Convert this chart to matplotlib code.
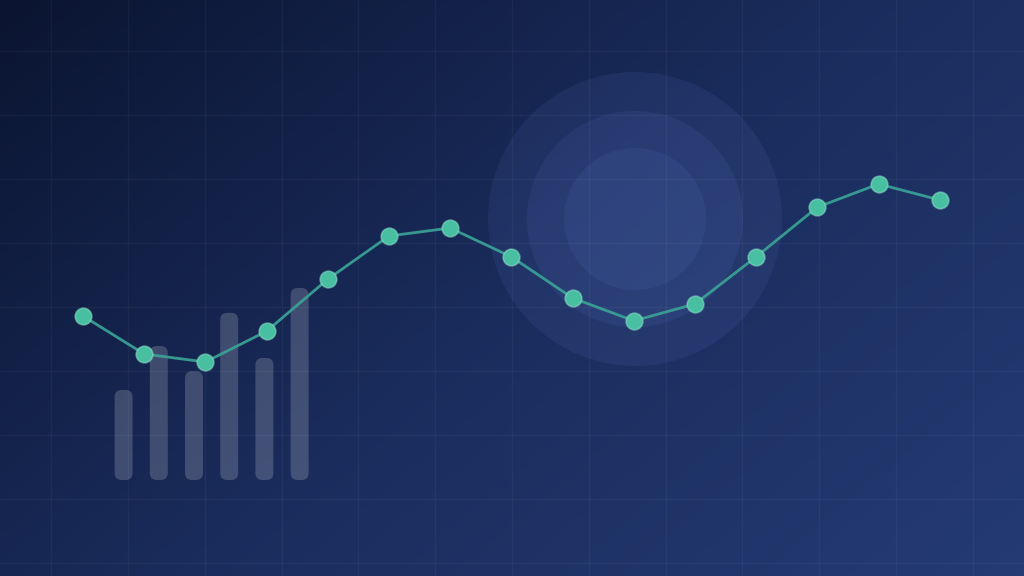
import numpy as np
import matplotlib
matplotlib.use("Agg")
import matplotlib.pyplot as plt
from matplotlib.patches import Circle, FancyBboxPatch
from matplotlib.colors import LinearSegmentedColormap

# Data
line_values = [65, 55.5, 53.5, 61.2, 74.2, 85, 87, 79.8, 69.5, 63.8, 68, 79.8, 92.2, 98, 94]
bar_values = [22.5, 33.5, 27.2, 41.8, 30.5, 48]

W, H = 1024, 576
fig = plt.figure(figsize=(W / 100, H / 100), dpi=100)

# Background: diagonal gradient, concentric glow, grid
bg = fig.add_axes([0, 0, 1, 1])
bg.set_xlim(0, W)
bg.set_ylim(H, 0)
bg.axis("off")
yy, xx = np.mgrid[0:H:4, 0:W:4]
t = (xx / W * 0.6 + yy / H * 0.4)
cmap = LinearSegmentedColormap.from_list("bg", ["#0b1531", "#1a2c5c", "#243b73"])
bg.imshow(t, cmap=cmap, extent=[0, W, H, 0], aspect="auto", zorder=0)

for r in [147, 108, 71]:
    bg.add_patch(Circle((635, 219), r, color="#6c88dc", alpha=0.1, lw=0, zorder=1))

for gx in np.arange(51.2, W, 76.8):
    bg.axvline(gx, color="white", alpha=0.04, lw=1, zorder=2)
for gy in np.arange(51.2, H, 64):
    bg.axhline(gy, color="white", alpha=0.04, lw=1, zorder=2)

# Bars (rounded, translucent)
axb = fig.add_axes([106 / W, 96 / H, 211.2 / W, 200 / H])
axb.set_xlim(-0.5, 5.5)
axb.set_ylim(0, 50)
axb.axis("off")
axb.patch.set_alpha(0)
bars = axb.bar(range(len(bar_values)), bar_values, width=0.51)
for b in bars:
    x0, y0 = b.get_x(), b.get_y()
    w, h = b.get_width(), b.get_height()
    b.remove()
    axb.add_patch(FancyBboxPatch((x0, y0), w, h,
                                 boxstyle="round,pad=0,rounding_size=0.2",
                                 mutation_aspect=8.8, fc="white", alpha=0.18, lw=0))

# Line with markers
ax = fig.add_axes([0, 0, 1, 1])
ax.set_xlim(-1.356, 15.376)
ax.set_ylim(0, 144)
ax.axis("off")
ax.patch.set_alpha(0)
x = np.arange(len(line_values))
ax.plot(x, line_values, color="#3aa597", lw=2, alpha=0.9, zorder=3)
ax.plot(x, line_values, ls="none", marker="o", ms=12, mfc="#48bfa0",
        mec=(0.55, 0.88, 0.8, 0.55), mew=1.2, zorder=4)

fig.savefig("out.png", dpi=100)
